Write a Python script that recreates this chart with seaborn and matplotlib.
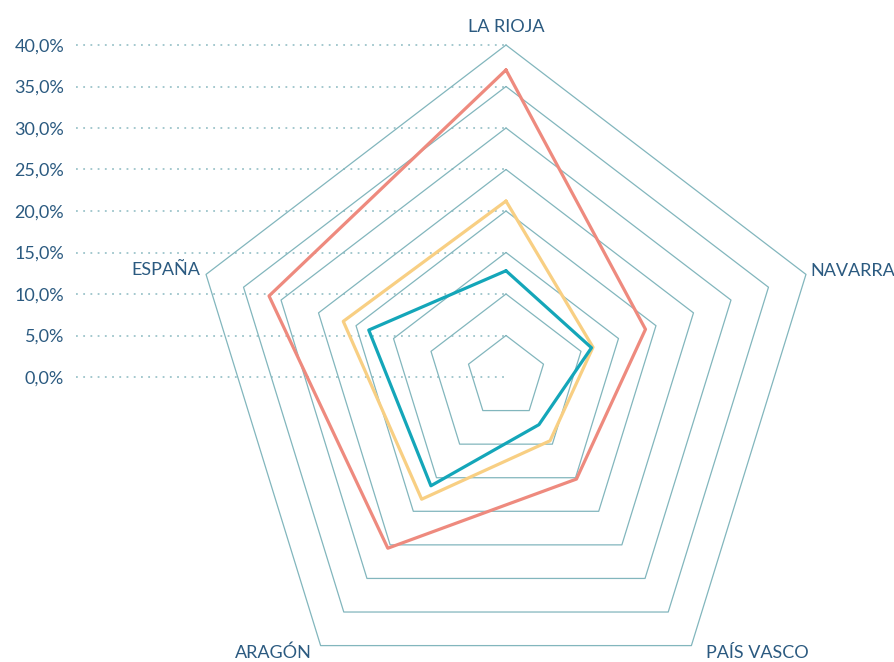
import numpy as np
import pandas as pd
import matplotlib
matplotlib.use("Agg")
import matplotlib.pyplot as plt
import seaborn as sns

# data
regions = ["LA RIOJA", "NAVARRA", "PAÍS VASCO", "ARAGÓN", "ESPAÑA"]
serie_roja = [37.0, 18.6, 15.2, 25.5, 31.6]
serie_amarilla = [21.2, 11.6, 9.5, 18.2, 21.7]
serie_turquesa = [12.8, 11.4, 7.1, 16.2, 18.3]
niveles = [5, 10, 15, 20, 25, 30, 35, 40]
tick_vals = [0, 5, 10, 15, 20, 25, 30, 35, 40]
tick_labels = ["0,0%", "5,0%", "10,0%", "15,0%", "20,0%", "25,0%", "30,0%", "35,0%", "40,0%"]

sns.set_style("white")
plt.rcParams["font.family"] = ["Lato", "DejaVu Sans"]

text_color = "#2b5a80"
grid_color = "#82b6bd"
colors = ["#ee8a7e", "#f8cf83", "#14a6b9"]

# horizontal squeeze of the pentagon
sx = 0.95

n = len(regions)
ang = np.pi / 2 - np.arange(n) * 2 * np.pi / n


def to_xy(vals):
    vals = np.asarray(vals, dtype=float)
    x = vals * np.cos(ang) * sx
    y = vals * np.sin(ang)
    return np.append(x, x[0]), np.append(y, y[0])


fig = plt.figure(figsize=(8.95, 6.62), dpi=100)
ax = fig.add_axes([76 / 895, 0, (895 - 76) / 895, 1])

px = 8.3  # pixels per percent
ax.set_xlim(-(506 - 76) / px, (895 - 506) / px)
ax.set_ylim(-(662 - 377) / px, 377 / px)

# dotted guide lines from the labels to the centre
ax.hlines(tick_vals, ax.get_xlim()[0], 0, colors="#9cc4ca", linestyles=(0, (1, 3)), linewidth=1.3)

# pentagon grid
for lv in niveles:
    gx, gy = to_xy([lv] * n)
    ax.plot(gx, gy, color=grid_color, linewidth=0.9)

# series
for vals, c in zip([serie_roja, serie_amarilla, serie_turquesa], colors):
    x, y = to_xy(vals)
    df = pd.DataFrame({"x": x, "y": y})
    sns.lineplot(data=df, x="x", y="y", sort=False, estimator=None, color=c, linewidth=2.3, ax=ax)

# category labels
vx, vy = to_xy([40] * n)
labels_cfg = {
    "LA RIOJA": (0, 18, "center", "center"),
    "NAVARRA": (4, 3, "left", "center"),
    "ESPAÑA": (-6, 4, "right", "center"),
}
for i, name in enumerate(regions):
    if name in labels_cfg:
        dx, dy, ha, va = labels_cfg[name]
        ax.annotate(name, (vx[i], vy[i]), xytext=(dx, dy), textcoords="offset pixels",
                    ha=ha, va=va, fontsize=13, color=text_color)
# bottom labels sit on the lower edge of the figure
ax.annotate("ARAGÓN", (vx[3], 0), xycoords=("data", "axes fraction"), xytext=(-9, 1),
            textcoords="offset pixels", ha="right", va="bottom", fontsize=13, color=text_color)
ax.annotate("PAÍS VASCO", (vx[2], 0), xycoords=("data", "axes fraction"), xytext=(15, 1),
            textcoords="offset pixels", ha="left", va="bottom", fontsize=13, color=text_color)

ax.set_yticks(tick_vals)
ax.set_yticklabels(tick_labels)
ax.set_xticks([])
ax.tick_params(axis="y", length=0, pad=8.6, labelsize=13, labelcolor=text_color)
ax.set_xlabel("")
ax.set_ylabel("")
for s in ax.spines.values():
    s.set_visible(False)

fig.savefig("out.png", dpi=100)
